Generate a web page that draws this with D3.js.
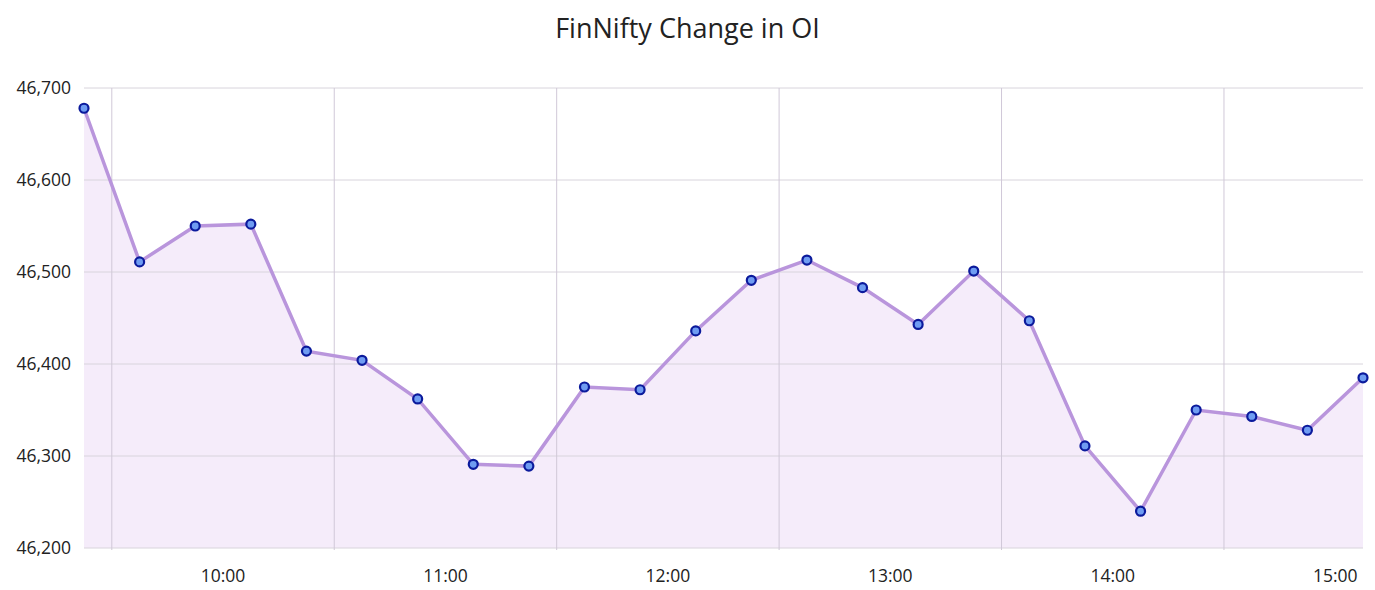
<!DOCTYPE html>
<html><head><meta charset="utf-8">
<script src="https://cdn.jsdelivr.net/npm/d3@7"></script>
<style>body{margin:0;background:#fff;font-family:"Open Sans",sans-serif;}</style>
</head><body><div id="chart"></div>
<script>
// 15 minute snapshots, first at 09:22:30
const startTime = "09:22:30";
const stepMinutes = 15;
const oiValues = [46678, 46511, 46550, 46552, 46414, 46404, 46362, 46291, 46289, 46375, 46372, 46436,
  46491, 46513, 46483, 46443, 46501, 46447, 46311, 46240, 46350, 46343, 46328, 46385];
const yTicks = [46200, 46300, 46400, 46500, 46600, 46700];
const hourTicks = ["10:00", "11:00", "12:00", "13:00", "14:00", "15:00"];
const gridTimes = ["09:30", "10:30", "11:30", "12:30", "13:30", "14:30"];

const W = 1375, H = 590;
const m = {left: 84, right: 12, top: 88, bottom: 42};
const parse = d3.timeParse("%H:%M:%S");
const parseHM = d3.timeParse("%H:%M");
const t0 = parse(startTime);
const data = oiValues.map((v, i) => ({t: d3.timeMinute.offset(t0, i * stepMinutes), v}));

const svg = d3.select("#chart").append("svg").attr("width", W).attr("height", H);

const x = d3.scaleTime().domain(d3.extent(data, d => d.t)).range([m.left, W - m.right]);
const y = d3.scaleLinear().domain([46200, 46700]).range([H - m.bottom, m.top]);

svg.append("text").attr("x", W / 2).attr("y", 38).attr("text-anchor", "middle")
  .attr("font-size", 27).attr("fill", "#222").text("FinNifty Change in OI");

const area = d3.area().x(d => x(d.t)).y0(y(46200)).y1(d => y(d.v));
const line = d3.line().x(d => x(d.t)).y(d => y(d.v));

svg.append("path").datum(data).attr("d", area).attr("fill", "#f5ecfa");

// horizontal grid + labels
svg.append("g").selectAll("line").data(yTicks).join("line")
  .attr("x1", m.left).attr("x2", W - m.right)
  .attr("y1", d => y(d)).attr("y2", d => y(d))
  .attr("stroke", "#d8d4dc").attr("stroke-width", 1);
svg.append("g").selectAll("text").data(yTicks).join("text")
  .attr("x", 71).attr("y", d => y(d) + 6).attr("text-anchor", "end")
  .attr("font-size", 17.5).attr("fill", "#222").text(d3.format(","));

// vertical grid
svg.append("g").selectAll("line").data(gridTimes.map(parseHM)).join("line")
  .attr("x1", d => x(d)).attr("x2", d => x(d))
  .attr("y1", m.top).attr("y2", H - m.bottom + 2)
  .attr("stroke", "#d0c8d8").attr("stroke-width", 1);

// x labels
svg.append("g").selectAll("text").data(hourTicks).join("text")
  .attr("x", d => x(parseHM(d))).attr("y", H - m.bottom + 34).attr("text-anchor", "middle")
  .attr("font-size", 17.5).attr("fill", "#222").text(d => d);

svg.append("path").datum(data).attr("d", line).attr("fill", "none")
  .attr("stroke", "#b995dc").attr("stroke-width", 3.5);

svg.append("g").selectAll("circle").data(data).join("circle")
  .attr("cx", d => x(d.t)).attr("cy", d => y(d.v)).attr("r", 4.5)
  .attr("fill", "#6f9cf2").attr("stroke", "#0b1a9c").attr("stroke-width", 2.2);
</script></body></html>
